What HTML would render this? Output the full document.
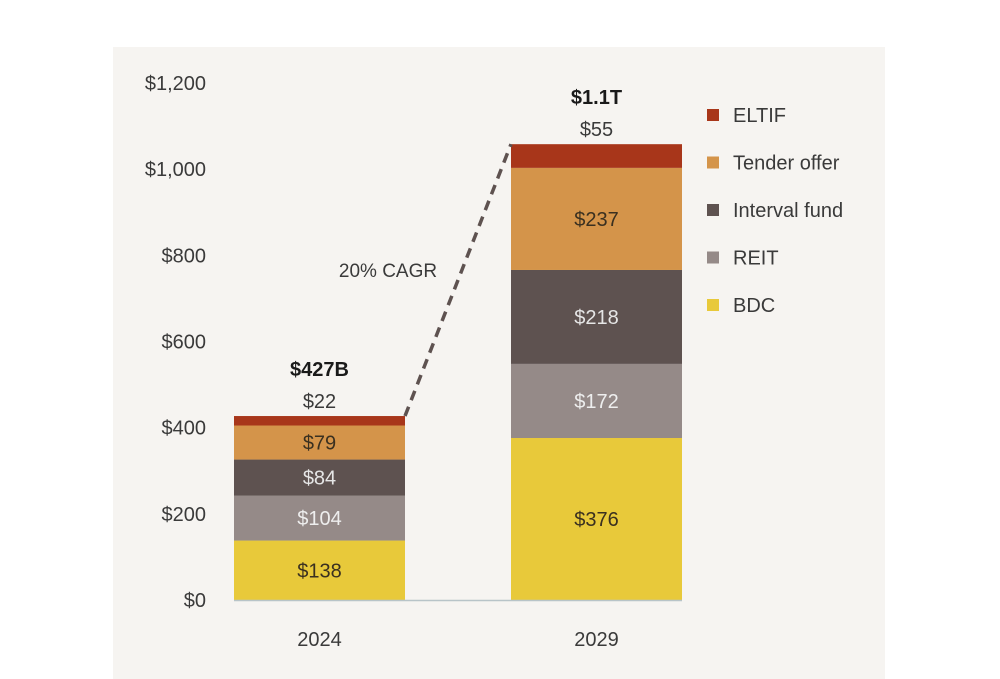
<!DOCTYPE html>
<html><head><meta charset="utf-8"><style>
html,body{margin:0;padding:0;background:#fff;}
svg{display:block;font-family:"Liberation Sans Narrow","Liberation Sans",sans-serif;}
</style></head><body>
<svg width="1000" height="679" viewBox="0 0 1000 679">
<rect x="113" y="47" width="772" height="632" fill="#f6f4f1"/>
<g id="yaxis"></g>
<g id="bars"></g>
<g id="legend"></g>
</svg>
<script>
const categories=["2024","2029"];
const seriesNames=["BDC","REIT","Interval fund","Tender offer","ELTIF"];
const bdc=[138,376];
const reit=[104,172];
const interval=[84,218];
const tender=[79,237];
const eltif=[22,55];
const totalLabels=["$427B","$1.1T"];
const yTicks=[0,200,400,600,800,1000,1200];
const cagrLabel="20% CAGR";
const colors=["#e8c93a","#958a88","#5e5250","#d4944a","#a8361a"];
const labelColors=["#3a3020","#eeeeee","#e6e6e6","#3a3020","#3a3a3a"];
const series=[bdc,reit,interval,tender,eltif];
const NS="http://www.w3.org/2000/svg";
const y=v=>600-v*517/1200;
const barX=[234,511],barW=171;
function mk(tag,attrs,parent,text){const e=document.createElementNS(NS,tag);for(const k in attrs)e.setAttribute(k,attrs[k]);if(text!==undefined)e.textContent=text;parent.appendChild(e);return e;}
const ya=document.getElementById('yaxis');
yTicks.forEach(t=>{const e=mk('text',{x:206,y:y(t)+7,'text-anchor':'end','font-size':20,fill:'#3a3a3a'},ya,'$'+t.toLocaleString('en-US'));

});
const bars=document.getElementById('bars');
const tops=[];
categories.forEach((c,i)=>{let cum=0;
series.forEach((s,j)=>{const v=s[i];const r=mk('rect',{x:barX[i],y:y(cum+v),width:barW,height:y(cum)-y(cum+v),fill:colors[j]},bars);


const cx=barX[i]+barW/2;
let ly=(y(cum)+y(cum+v))/2+7,col=labelColors[j];
if(j===4){ly=y(cum+v)-8;col='#3a3a3a';}
const t=mk('text',{x:cx,y:ly,'text-anchor':'middle','font-size':20,fill:col},bars,'$'+v);


cum+=v;});
tops.push(cum);
const tl=mk('text',{x:barX[i]+barW/2,y:y(cum)-40,'text-anchor':'middle','font-size':20,'font-weight':'bold',fill:'#1a1a1a'},bars,totalLabels[i]);


const xl=mk('text',{x:barX[i]+barW/2,y:646,'text-anchor':'middle','font-size':20,fill:'#3a3a3a'},bars,c);

});
const base=mk('line',{x1:234,x2:682,y1:600.5,y2:600.5,stroke:'#b8c4c8','stroke-width':1.5},bars);


const dl=mk('line',{x1:barX[0]+barW,y1:y(tops[0]),x2:barX[1],y2:y(tops[1]),stroke:'#5e5250','stroke-width':3.5,'stroke-dasharray':'10,7'},bars);


const cg=mk('text',{x:388,y:277,'text-anchor':'middle','font-size':19,fill:'#3a3a3a'},bars,cagrLabel);


const lg=document.getElementById('legend');
for(let j=4;j>=0;j--){const row=4-j;const yy=115+row*47.5;
const r=mk('rect',{x:707,y:yy-6,width:12,height:12,fill:colors[j]},lg);


const t=mk('text',{x:733,y:yy+7,'font-size':20,fill:'#3a3a3a'},lg,seriesNames[j]);

}
</script>
</body></html>
